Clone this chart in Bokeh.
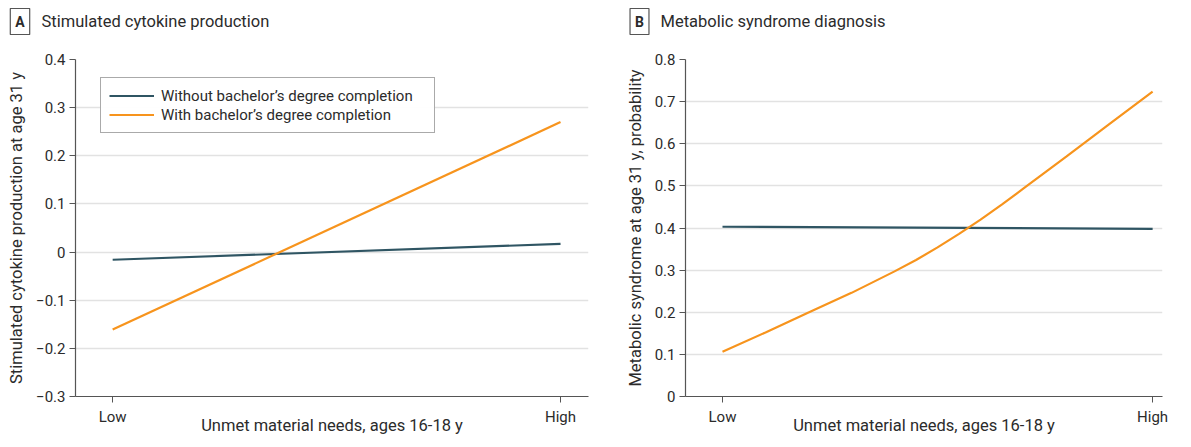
from bokeh.plotting import figure
from bokeh.layouts import row, column
from bokeh.models import Legend, LegendItem, Label, FixedTicker, Range1d
from bokeh.embed import file_html
from bokeh.resources import INLINE

# ---- data ----
x_levels = [0, 1]
x_labels = ["Low", "High"]

a_without = [-0.016, 0.017]
a_with = [-0.161, 0.270]

b_without = [0.403, 0.398]
b_with_x = [0, 0.1, 0.2, 0.3, 0.4, 0.45, 0.5, 0.55, 0.6, 0.65, 0.7, 0.8, 0.9, 1.0]
b_with_y = [0.106, 0.152, 0.1995, 0.246, 0.297, 0.324, 0.354, 0.386, 0.420, 0.456, 0.494,
            0.570, 0.647, 0.724]

a_ticks = [-0.3, -0.2, -0.1, 0, 0.1, 0.2, 0.3, 0.4]
a_tick_labels = ["\u22120.3", "\u22120.2", "\u22120.1", "0", "0.1", "0.2", "0.3", "0.4"]
b_ticks = [0, 0.1, 0.2, 0.3, 0.4, 0.5, 0.6, 0.7, 0.8]
b_tick_labels = ["0", "0.1", "0.2", "0.3", "0.4", "0.5", "0.6", "0.7", "0.8"]

series_names = ["Without bachelor\u2019s degree completion", "With bachelor\u2019s degree completion"]
x_title = "Unmet material needs, ages 16-18 y"
a_title = "Stimulated cytokine production"
b_title = "Metabolic syndrome diagnosis"
a_ytitle = "Stimulated cytokine production at age 31 y"
b_ytitle = "Metabolic syndrome at age 31 y, probability"

C_DARK = "#2f5563"
C_ORANGE = "#f7941d"
TXT = "#2b2b2b"
FONT = "Roboto"
HDR_H = 49
FRAME_H = 337


def style(p, yticks, ylabels, ytitle):
    p.outline_line_color = None
    p.xgrid.grid_line_color = None
    p.ygrid.grid_line_color = "#e2e2e2"
    p.ygrid.grid_line_width = 1.5
    p.yaxis.ticker = FixedTicker(ticks=yticks)
    p.yaxis.major_label_overrides = {t: l for t, l in zip(yticks, ylabels)}
    p.xaxis.ticker = FixedTicker(ticks=x_levels)
    p.xaxis.major_label_overrides = {t: l for t, l in zip(x_levels, x_labels)}
    for ax in (p.xaxis, p.yaxis):
        ax.axis_line_color = "#555555"
        ax.axis_line_width = 1.2
        ax.major_tick_line_color = "#555555"
        ax.minor_tick_line_color = None
        ax.major_tick_in = 0
        ax.major_tick_out = 6
        ax.major_label_text_font = FONT
        ax.major_label_text_font_size = "15px"
        ax.major_label_text_color = TXT
        ax.axis_label_text_font = FONT
        ax.axis_label_text_font_size = "16.5px"
        ax.axis_label_text_font_style = "normal"
        ax.axis_label_text_color = TXT
    p.xaxis.major_label_standoff = 5
    p.yaxis.major_label_standoff = 4
    p.yaxis.axis_label = ytitle
    p.yaxis.axis_label_standoff = 7
    p.xaxis.axis_label = x_title
    p.xaxis.axis_label_standoff = -13


def header(width, letter, text, box_x, text_x):
    h = figure(width=width, height=HDR_H, output_backend="svg", toolbar_location=None,
               x_range=Range1d(0, width), y_range=Range1d(HDR_H, 0),
               x_axis_type=None, y_axis_type=None,
               min_border_left=0, min_border_right=0, min_border_top=0, min_border_bottom=0)
    h.outline_line_color = None
    h.grid.visible = False
    h.add_layout(Label(x=box_x, y=21, text=letter,
                       text_font=FONT, text_font_size="14px", text_font_style="bold",
                       text_color=TXT, text_align="center", text_baseline="middle",
                       border_line_color="#555555", border_line_width=1.2,
                       background_fill_color="white", padding=5))
    h.add_layout(Label(x=text_x, y=21, text=text,
                       text_font=FONT, text_font_size="16.5px", text_color=TXT,
                       text_align="left", text_baseline="middle"))
    return h


# ---- Panel A ----
pa = figure(frame_width=513, frame_height=FRAME_H, output_backend="svg", toolbar_location=None,
            x_range=Range1d(-0.083, 1.0625), y_range=Range1d(-0.3, 0.4),
            min_border_left=75, min_border_right=7, min_border_top=59 - HDR_H,
            min_border_bottom=35)
style(pa, a_ticks, a_tick_labels, a_ytitle)
ra1 = pa.line(x_levels, a_without, line_color=C_DARK, line_width=2.2)
ra2 = pa.line(x_levels, a_with, line_color=C_ORANGE, line_width=2.2)
leg = Legend(items=[LegendItem(label=series_names[0], renderers=[ra1]),
                    LegendItem(label=series_names[1], renderers=[ra2])],
             location=(25, 263), border_line_color="#555555", border_line_width=1.2,
             label_text_font=FONT, label_text_font_size="15px", label_text_color=TXT,
             glyph_width=45, glyph_height=19, label_height=19, label_width=265, spacing=0,
             padding=8, margin=0, label_standoff=7)
pa.add_layout(leg, "center")
ha = header(595, "A", a_title, 19.5, 41)

# ---- Panel B ----
pb = figure(frame_width=477, frame_height=FRAME_H, output_backend="svg", toolbar_location=None,
            x_range=Range1d(-0.086, 1.023), y_range=Range1d(0, 0.8),
            min_border_left=90, min_border_right=13, min_border_top=59 - HDR_H,
            min_border_bottom=35)
style(pb, b_ticks, b_tick_labels, b_ytitle)
pb.line(x_levels, b_without, line_color=C_DARK, line_width=2.2)
pb.line(b_with_x, b_with_y, line_color=C_ORANGE, line_width=2.2)
hb = header(580, "B", b_title, 44, 65)

layout = column(row(ha, hb), row(pa, pb))
open("out.html", "w").write(file_html(layout, INLINE))
